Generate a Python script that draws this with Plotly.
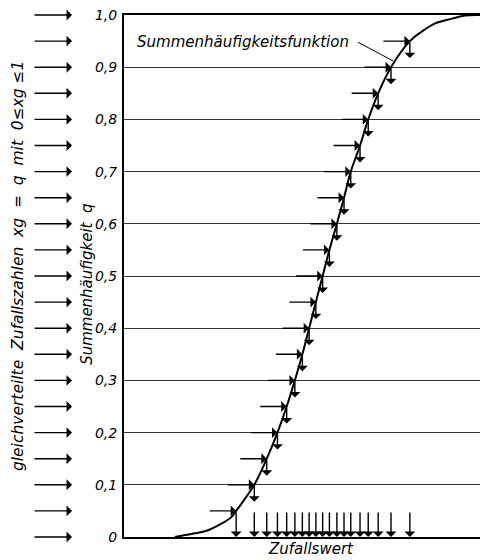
import plotly.graph_objects as go

# ---- data ----
# cumulative frequency levels of the sample points
quantile_q = [0.05, 0.10, 0.15, 0.20, 0.25, 0.30, 0.35, 0.40, 0.45, 0.50,
              0.55, 0.60, 0.65, 0.70, 0.75, 0.80, 0.85, 0.90, 0.95]
# corresponding random values (arbitrary x units 0..10, no tick labels in original)
quantile_x = [3.15, 3.66, 4.01, 4.31, 4.57, 4.80, 5.01, 5.20, 5.39, 5.58,
              5.77, 5.98, 6.18, 6.37, 6.63, 6.86, 7.14, 7.50, 8.03]
# extra points on the curve (lower tail and upper shoulder)
tail_x = [1.43, 1.99, 2.36, 2.75, 3.03]
tail_q = [0.0, 0.007, 0.013, 0.026, 0.039]
top_x = [8.36, 8.74, 9.21, 9.58, 10.0]
top_q = [0.968, 0.984, 0.993, 0.999, 1.0]
# uniformly distributed random numbers on the left
zufallszahlen = [0.00, 0.05, 0.10, 0.15, 0.20, 0.25, 0.30, 0.35, 0.40, 0.45, 0.50,
                 0.55, 0.60, 0.65, 0.70, 0.75, 0.80, 0.85, 0.90, 0.95, 1.00]
tick_vals = [0, 0.1, 0.2, 0.3, 0.4, 0.5, 0.6, 0.7, 0.8, 0.9, 1.0]
tick_text = ["0", "0,1", "0,2", "0,3", "0,4", "0,5", "0,6", "0,7", "0,8", "0,9", "1,0"]

FONT = "DejaVu Sans"
W, H = 480, 560
ML, MR, MT, MB = 124, 0, 15, 23
plot_h = H - MT - MB
plot_w = W - ML - MR

curve_x = tail_x + quantile_x + top_x
curve_q = tail_q + quantile_q + top_q

fig = go.Figure()
fig.add_trace(go.Scatter(x=curve_x, y=curve_q, mode="lines",
                         line=dict(color="black", width=2, shape="spline", smoothing=1.0),
                         hoverinfo="skip", showlegend=False))

ann = []
arrow_style = dict(showarrow=True, arrowhead=1, arrowsize=1.3, arrowwidth=1.4,
                   arrowcolor="black", text="")
# left arrows (uniform random numbers)
for q in zufallszahlen:
    ann.append(dict(x=-52 / plot_w, y=q, xref="paper", yref="y",
                    ax=-39, ay=0, axref="pixel", ayref="pixel", **arrow_style))
# horizontal arrows to the curve
for xq, q in zip(quantile_x, quantile_q):
    ann.append(dict(x=xq, y=q, xref="x", yref="y", ax=-28, ay=0, **arrow_style))
# short vertical arrows below the curve
for xq, q in zip(quantile_x[1:], quantile_q[1:]):
    ann.append(dict(x=xq, y=q - 17 / plot_h, xref="x", yref="y", axref="x", ayref="y",
                    ax=xq, ay=q, **arrow_style))
# bottom arrows onto the x axis
for xq in quantile_x:
    ann.append(dict(x=xq, y=0, xref="x", yref="y", axref="x", ayref="y",
                    ax=xq, ay=quantile_q[0], **arrow_style))

tfont = dict(family=FONT, size=15, color="black", style="italic")
ann.append(dict(text="Summenhäufigkeitsfunktion", x=0.31, y=0.948, xref="x", yref="y",
                xanchor="left", yanchor="middle", showarrow=False, font=tfont))
ann.append(dict(text="Zufallswert", x=5.25, y=-0.023, xref="x", yref="paper",
                xanchor="center", yanchor="middle", showarrow=False, font=tfont))
ann.append(dict(text="Summenhäufigkeit  q", x=(87 - ML) / plot_w, y=0.483,
                xref="paper", yref="paper", textangle=-90, xanchor="center",
                yanchor="middle", showarrow=False, font=tfont))
ann.append(dict(text="gleichverteilte  Zufallszahlen  xg  =  q  mit  0≤xg ≤1",
                x=(18 - ML) / plot_w, y=0.519, xref="paper", yref="paper",
                textangle=-90, xanchor="center", yanchor="middle", showarrow=False,
                font=dict(family=FONT, size=15.5, color="black", style="italic")))

fig.add_shape(type="line", x0=6.57, y0=0.948, x1=7.56, y1=0.912, xref="x", yref="y",
              line=dict(color="black", width=1))

fig.update_layout(
    width=W, height=H, margin=dict(l=ML, r=MR, t=MT, b=MB),
    paper_bgcolor="white", plot_bgcolor="white",
    annotations=ann, showlegend=False,
    xaxis=dict(range=[0, 10], showticklabels=False, ticks="", showgrid=False,
               zeroline=False, showline=True, linecolor="black", linewidth=2,
               mirror=True),
    yaxis=dict(range=[0, 1], tickvals=tick_vals, ticktext=tick_text, ticks="",
               ticklabelstandoff=2,
               tickfont=dict(family=FONT, size=14, color="black", style="italic"),
               showgrid=True, gridcolor="#333333", gridwidth=1, zeroline=False,
               showline=True, linecolor="black", linewidth=2),
)
fig.write_html("out.html", config={"displayModeBar": False},
               post_script="document.body.style.margin='0';document.body.style.overflow='hidden';")
